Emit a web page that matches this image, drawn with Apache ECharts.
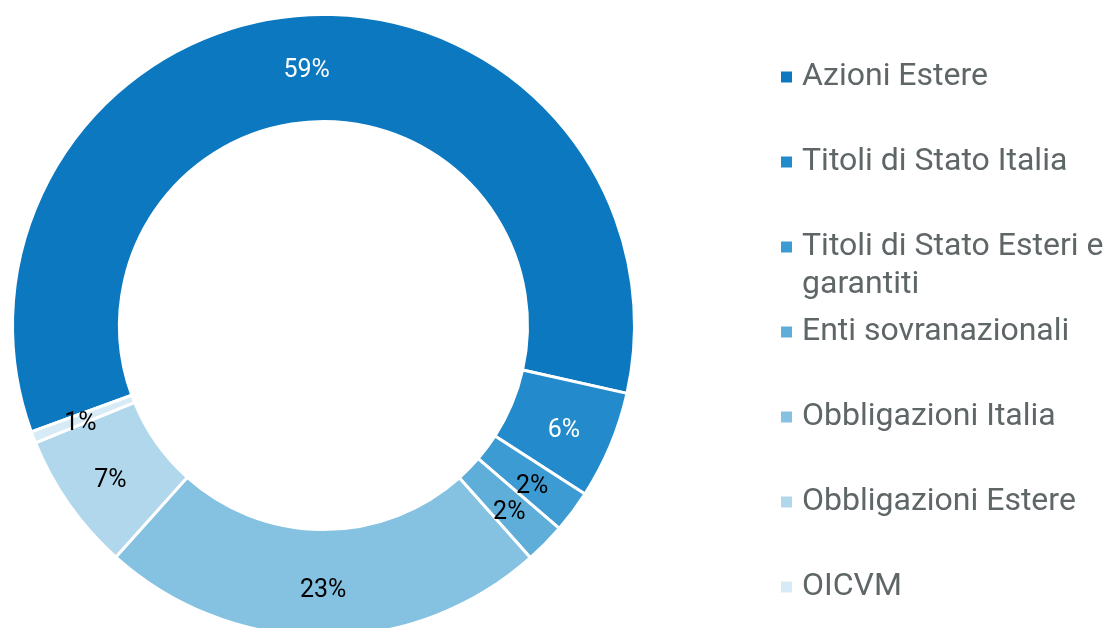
<!DOCTYPE html>
<html>
<head>
<meta charset="utf-8">
<script src="https://cdn.jsdelivr.net/npm/echarts@6/dist/echarts.min.js"></script>
<style>
html,body{margin:0;padding:0;background:#fff;}
#chart{width:1110px;height:628px;}
</style>
</head>
<body>
<div id="chart"></div>
<script>
const categories = [
  'Azioni Estere',
  'Titoli di Stato Italia',
  'Titoli di Stato Esteri e garantiti',
  'Enti sovranazionali',
  'Obbligazioni Italia',
  'Obbligazioni Estere',
  'OICVM'
];
const values = [59.0, 5.6, 2.2, 2.1, 23.2, 7.2, 0.6];
const colors = ['#0b78bf', '#238bcb', '#3d9bd3', '#5eaed9', '#85c2e1', '#b0d7eb', '#d6ebf5'];
const labelColors = ['#ffffff', '#ffffff', '#000000', '#000000', '#000000', '#000000', '#000000'];
const legendLabels = [
  'Azioni Estere',
  'Titoli di Stato Italia',
  '\nTitoli di Stato Esteri e\ngarantiti',
  'Enti sovranazionali',
  'Obbligazioni Italia',
  'Obbligazioni Estere',
  'OICVM'
];

const FONT = 'Roboto';
const legendCenters = [75, 160, 245, 330, 415, 500, 585];

const legends = categories.map((name, i) => {
  const lines = legendLabels[i].split('\n').length;
  return {
    orient: 'vertical',
    left: 774,
    top: legendCenters[i] - 19 * lines - 4,
    data: [name],
    icon: 'rect',
    itemWidth: 13,
    itemHeight: 13,
    selectedMode: false,
    formatter: () => legendLabels[i],
    textStyle: {
      fontFamily: FONT,
      fontSize: 32,
      color: '#5f6667',
      lineHeight: 38,
      padding: [2, 0, 0, 4]
    }
  };
});

const chart = echarts.init(document.getElementById('chart'), null, {renderer: 'canvas'});
chart.setOption({
  animation: false,
  color: colors,
  legend: legends,
  series: [{
    type: 'pie',
    center: [323.5, 325.5],
    radius: [204, 311],
    startAngle: 200,
    clockwise: true,
    avoidLabelOverlap: false,
    itemStyle: { borderColor: '#ffffff', borderWidth: 3 },
    label: {
      show: true,
      position: 'inside',
      fontFamily: FONT,
      fontSize: 25,
      offset: [0, 5],
      formatter: p => Math.round(p.value) + '%'
    },
    labelLine: { show: false },
    emphasis: { disabled: true },
    data: categories.map((name, i) => ({
      name: name,
      value: values[i],
      itemStyle: { color: colors[i] },
      label: { color: labelColors[i] }
    }))
  }]
});
</script>
</body>
</html>
